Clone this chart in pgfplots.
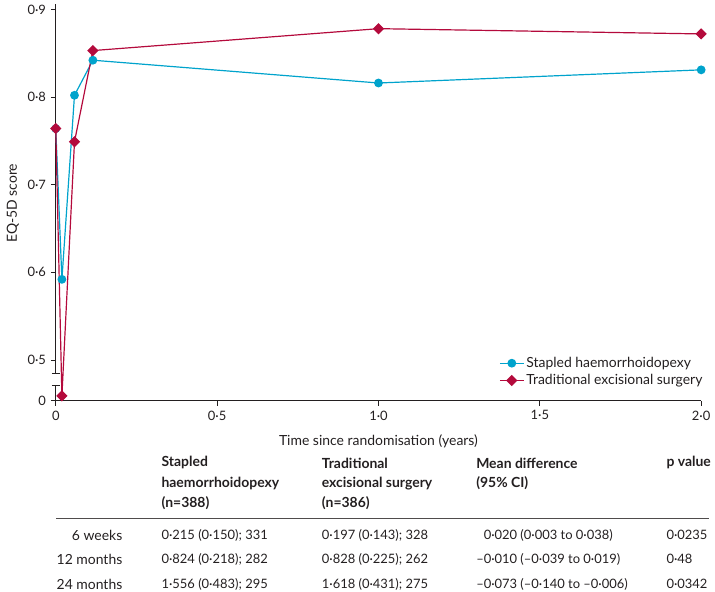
\documentclass[border=0pt]{standalone}
\usepackage{fontspec}
\setmainfont{Lato}
\usepackage{pgfplots}
\pgfplotsset{compat=1.18}
\definecolor{sh}{RGB}{0,163,204}
\definecolor{tes}{RGB}{180,10,60}
\definecolor{ink}{RGB}{35,31,32}
\newcommand{\txt}{\fontsize{14}{16}\selectfont}
\newcommand{\num}{\fontsize{13}{15}\selectfont}

\begin{document}
\txt
\begin{tikzpicture}
\begin{axis}[
  anchor=south west,
  scale only axis, width=648pt, height=398.3pt,
  xmin=0, xmax=2, ymin=0.4534, ymax=0.906,
  axis x line*=bottom, axis y line*=left,
  y axis line style={draw=none},
  x axis line style={ink, line width=0.8pt},
  clip=false,
  tick align=outside, major tick length=5pt,
  tick style={ink, line width=0.8pt},
  xtick={0,0.5,1,1.5,2}, xticklabels={0,0·5,1·0,1·5,2·0},
  ytick={0.4534,0.5,0.6,0.7,0.8,0.9}, yticklabels={0,0·5,0·6,0·7,0·8,0·9},
  ticklabel style={font=\num, text=ink},
  legend style={at={(1.01,0.025)}, anchor=south east, draw=none, fill=none,
    font=\txt, text=ink, row sep=1pt},
  legend cell align=left,
  legend image code/.code={\draw[mark repeat=2,mark phase=2] plot coordinates {(0pt,0pt)(12pt,0pt)(24pt,0pt)};},
]
\draw[ink, line width=0.8pt] (axis cs:0,0.4848) -- (axis cs:0,0.906);
\draw[ink, line width=0.8pt] (axis cs:0,0.4534) -- (axis cs:0,0.4705);
\draw[ink, line width=0.8pt] ([xshift=-4pt]axis cs:0,0.4848) -- ([xshift=4pt]axis cs:0,0.4848);
\draw[ink, line width=0.8pt] ([xshift=-4pt]axis cs:0,0.4705) -- ([xshift=4pt]axis cs:0,0.4705);
\addplot[sh, line width=1.2pt, mark=*, mark size=3.8pt] coordinates {
  (0,0.764) (0.019,0.592) (0.058,0.802) (0.115,0.842) (1,0.816) (2,0.831)};
\addlegendentry{Stapled haemorrhoidopexy}
\addplot[tes, line width=1.2pt, mark=square*, mark size=3.4pt, mark options={rotate=45}] coordinates {
  (0,0.764) (0.019,0.459) (0.058,0.749) (0.115,0.853) (1,0.878) (2,0.872)};
\addlegendentry{Traditional excisional surgery}
\end{axis}

\begin{scope}[x=1pt, y=1pt, shift={(-56pt,398.3pt)}]
\useasboundingbox (0,0) rectangle (715,-590);
\node[ink, rotate=90] at (13,-200) {EQ-5D score};
\node[ink] at (380,-439) {Time since randomisation (years)};

% table
\begin{scope}[every node/.style={ink, anchor=west, inner sep=0pt}]
\node[font=\bfseries] at (162,-460.7) {Stapled};
\node[font=\bfseries] at (162,-481) {haemorrhoidopexy};
\node[font=\bfseries] at (162,-501) {(n=388)};
\node[font=\bfseries] at (323,-460.7) {Traditional};
\node[font=\bfseries] at (323,-481) {excisional surgery};
\node[font=\bfseries] at (323,-501) {(n=386)};
\node[font=\bfseries] at (478,-460.7) {Mean difference};
\node[font=\bfseries] at (478,-481) {(95\% CI)};
\node[font=\bfseries] at (669,-460.7) {p value};
\draw[ink!80, line width=1pt] (56.7,-516) -- (711.7,-516);

\node[anchor=east] at (123,-533) {6 weeks};
\node[anchor=east] at (123,-557.3) {12 months};
\node[anchor=east] at (123,-582.3) {24 months};

\begin{scope}[every node/.append style={font=\num}]
\node at (162,-533) {0·215 (0·150); 331};
\node at (162,-557.3) {0·824 (0·218); 282};
\node at (162,-582.3) {1·556 (0·483); 295};

\node at (323,-533) {0·197 (0·143); 328};
\node at (323,-557.3) {0·828 (0·225); 262};
\node at (323,-582.3) {1·618 (0·431); 275};

\node at (478,-533) {\phantom{–}0·020 (0·003 to 0·038)};
\node at (478,-557.3) {–0·010 (–0·039 to 0·019)};
\node at (478,-582.3) {–0·073 (–0·140 to –0·006)};

\node at (669,-533) {0·0235};
\node at (669,-557.3) {0·48};
\node at (669,-582.3) {0·0342};
\end{scope}
\end{scope}
\end{scope}
\end{tikzpicture}
\end{document}
